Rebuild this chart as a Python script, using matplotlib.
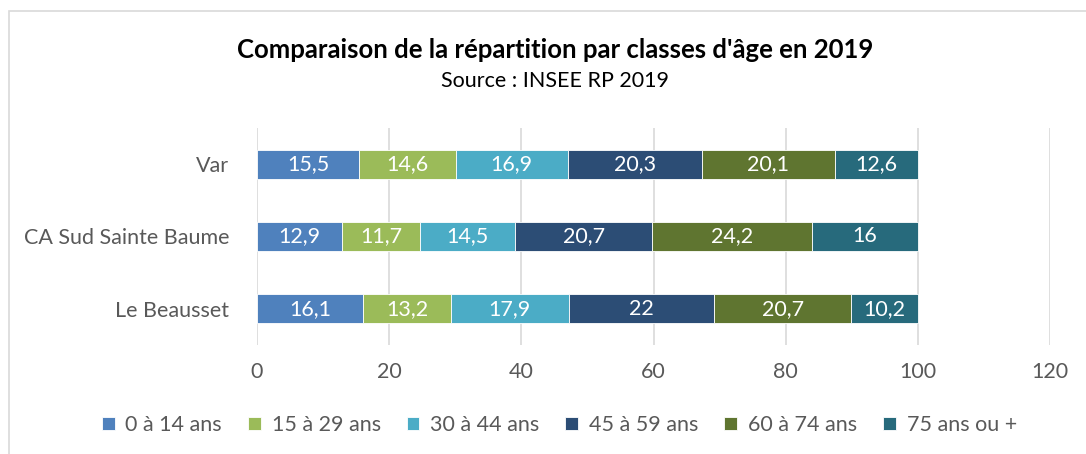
import matplotlib
matplotlib.use("Agg")
import matplotlib.pyplot as plt
from matplotlib.patches import Rectangle
import numpy as np

plt.rcParams['font.family'] = ['Lato', 'DejaVu Sans']

categories = ["Le Beausset", "CA Sud Sainte Baume", "Var"]
series_names = ["0 à 14 ans", "15 à 29 ans", "30 à 44 ans", "45 à 59 ans", "60 à 74 ans", "75 ans ou +"]
values = {
    "0 à 14 ans":  [16.1, 12.9, 15.5],
    "15 à 29 ans": [13.2, 11.7, 14.6],
    "30 à 44 ans": [17.9, 14.5, 16.9],
    "45 à 59 ans": [22, 20.7, 20.3],
    "60 à 74 ans": [20.7, 24.2, 20.1],
    "75 ans ou +": [10.2, 16, 12.6],
}
colors = ["#4F81BD", "#9BBB59", "#4BACC6", "#2C4D75", "#5F7530", "#276A7C"]
xticks = [0, 20, 40, 60, 80, 100, 120]

FS = 15.5

fig = plt.figure(figsize=(10.86, 4.54), dpi=100)
fig.patches.append(Rectangle((9/1086, -0.1), 1.2, 1 - 11/454 + 0.1, transform=fig.transFigure,
                             facecolor="none", edgecolor="#D9D9D9", linewidth=1.2))
ax = fig.add_axes([257/1086, 1 - 345/454, (1050 - 257)/1086, (345 - 128)/454])

y = np.arange(len(categories))
left = np.zeros(len(categories))
handles = []
for name, col in zip(series_names, colors):
    vals = np.array(values[name], dtype=float)
    bars = ax.barh(y, vals, left=left, height=0.4, color=col, edgecolor="white", linewidth=0.6, label=name, zorder=3)
    handles.append(bars)
    for yi, v, l in zip(y, vals, left):
        txt = ("%g" % v).replace(".", ",")
        ax.text(l + v / 2, yi, txt, ha="center", va="center", color="white", fontsize=FS, zorder=4)
    left += vals

ax.set_xlim(0, 120)
ax.set_ylim(-0.5, 2.5)
ax.set_xticks(xticks)
ax.set_xticklabels([str(t) for t in xticks])
ax.set_yticks(y)
ax.set_yticklabels(categories)
ax.tick_params(axis="both", length=0, labelsize=FS, labelcolor="#595959")
ax.tick_params(axis="x", pad=12)
ax.tick_params(axis="y", pad=20)
ax.grid(axis="x", color="#D9D9D9", linewidth=1.2, zorder=0)
for s in ax.spines.values():
    s.set_visible(False)

fig.text(0.511, 1 - 50/454, "Comparaison de la répartition par classes d'âge en 2019", ha="center", va="center",
         fontsize=18.5, fontweight="bold", color="black")
fig.text(0.511, 1 - 81/454, "Source : INSEE RP 2019", ha="center", va="center", fontsize=FS, color="black")

leg = fig.legend(handles=handles, labels=series_names, loc="center", bbox_to_anchor=(0.515, 1 - 425/454), ncol=6,
                 frameon=False, fontsize=FS, handlelength=0.6, handleheight=0.6, handletextpad=0.5, columnspacing=1.2)
for t in leg.get_texts():
    t.set_color("#595959")

fig.savefig("out.png", dpi=100)
